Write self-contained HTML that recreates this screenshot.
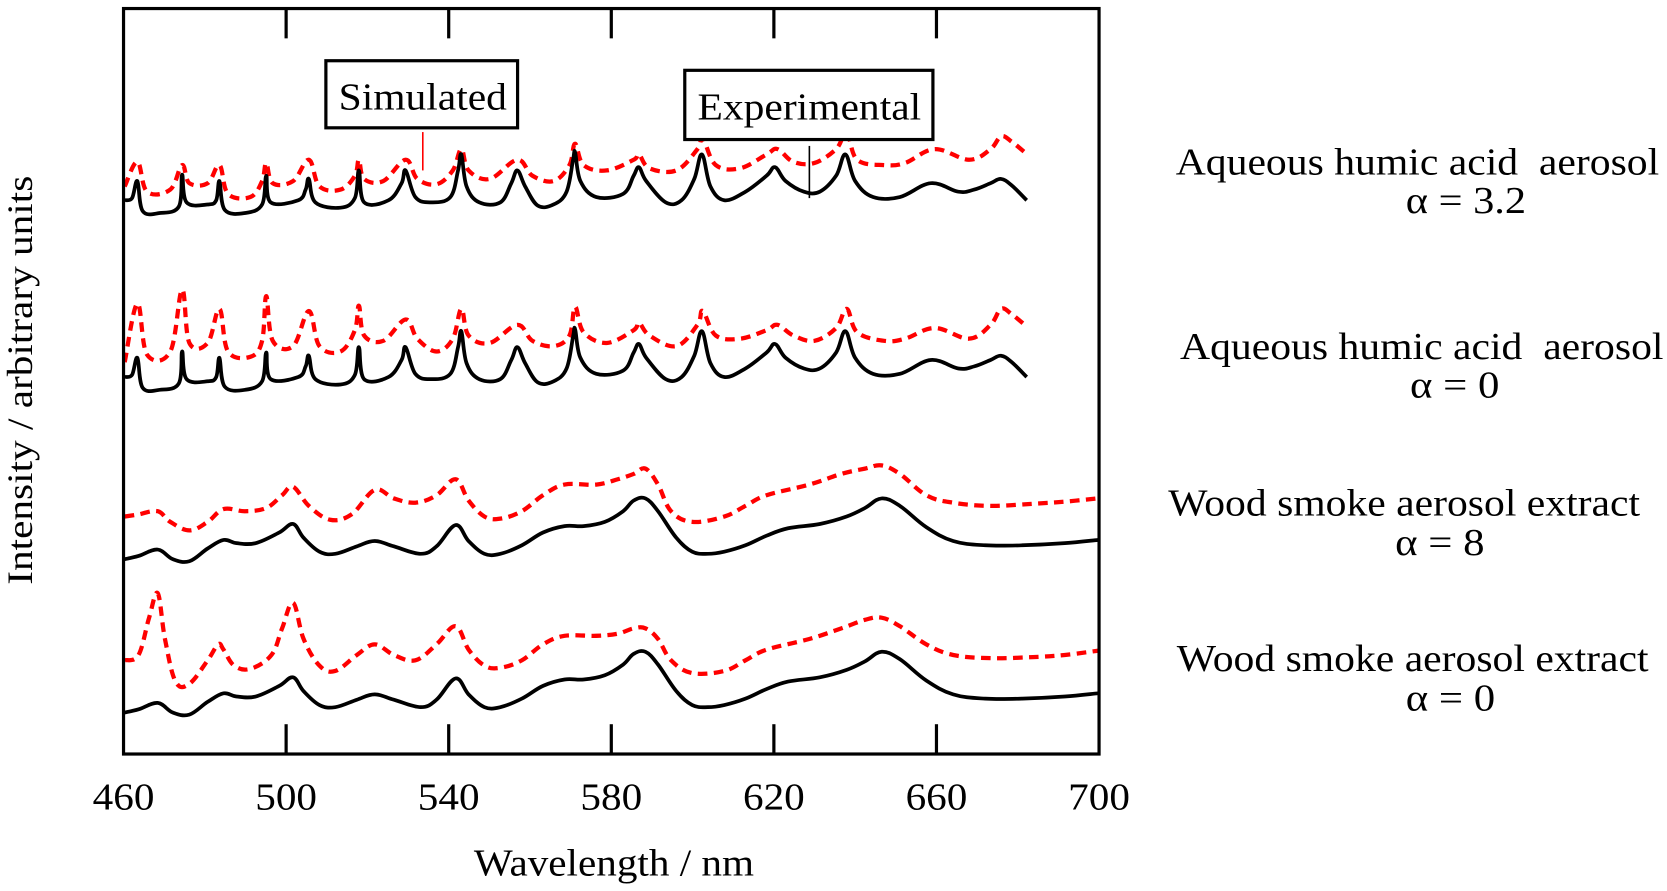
<!DOCTYPE html>
<html><head><meta charset="utf-8"><style>
html,body{margin:0;padding:0;background:#fff;}
svg{display:block;}
text{font-family:"Liberation Serif",serif;fill:#000;white-space:pre;}
</style></head><body>
<svg id="chart" width="1667" height="891" viewBox="0 0 1565.3 836.6" xmlns="http://www.w3.org/2000/svg">
<rect x="0" y="0" width="1565.3" height="836.6" fill="#fff"/>
<g id="marks"></g>
<rect x="116" y="8" width="916" height="700" fill="none" stroke="#000" stroke-width="3"/>
<g id="ticks"></g>
<text x="445" y="822" font-size="36" textLength="263" lengthAdjust="spacingAndGlyphs">Wavelength / nm</text>
<text transform="translate(30,549) rotate(-90)" font-size="34" textLength="384" lengthAdjust="spacingAndGlyphs">Intensity / arbitrary units</text>
<g>
<rect x="306" y="57" width="180" height="63" fill="#fff" stroke="#000" stroke-width="3"/>
<text x="318" y="103" font-size="36" textLength="158" lengthAdjust="spacingAndGlyphs">Simulated</text>
<line x1="397" y1="124" x2="397" y2="160" stroke="#f00" stroke-width="1.5"/>
</g>
<g>
<rect x="643" y="66" width="233" height="65" fill="#fff" stroke="#000" stroke-width="3"/>
<text x="655" y="112" font-size="36" textLength="210" lengthAdjust="spacingAndGlyphs">Experimental</text>
<line x1="760" y1="137" x2="760" y2="186" stroke="#000" stroke-width="1.5"/>
</g>
<g font-size="36">
<text x="1104" y="164" textLength="454" lengthAdjust="spacingAndGlyphs">Aqueous humic acid &#160;aerosol</text>
<text x="1320" y="200" textLength="113" lengthAdjust="spacingAndGlyphs">α = 3.2</text>
<text x="1108" y="337" textLength="454" lengthAdjust="spacingAndGlyphs">Aqueous humic acid &#160;aerosol</text>
<text x="1324" y="373" textLength="84" lengthAdjust="spacingAndGlyphs">α = 0</text>
<text x="1097" y="484" textLength="443" lengthAdjust="spacingAndGlyphs">Wood smoke aerosol extract</text>
<text x="1310" y="521" textLength="84" lengthAdjust="spacingAndGlyphs">α = 8</text>
<text x="1105" y="630" textLength="443" lengthAdjust="spacingAndGlyphs">Wood smoke aerosol extract</text>
<text x="1320" y="667" textLength="84" lengthAdjust="spacingAndGlyphs">α = 0</text>
</g>
</svg>
<script>
const tickValues = [460, 500, 540, 580, 620, 660, 700];
const tickLabels = ["460", "500", "540", "580", "620", "660", "700"];

const wlExpHumic = [460.3,462.1,463.4,464.7,468.9,473.6,474.4,475.5,480.7,482.8,483.6,484.9,489.9,494.1,495.1,496.2,503.0,504.8,505.6,507.2,513.4,516.9,517.9,519.2,525.2,528.4,529.4,531.8,535.7,540.4,542.3,543.1,544.4,547.5,552.7,555.4,556.9,558.8,561.9,565.8,569.0,570.6,571.1,572.4,576.3,582.9,585.5,586.8,588.6,593.4,597.3,600.4,602.3,604.4,607.8,613.0,618.2,620.3,622.9,627.4,631.3,635.3,637.6,640.0,644.4,651.0,658.6,665.4,669.3,673.3,675.9,678.5,682.2];
const intExpHumic = [812,814,830,802,800,806,836,810,808,812,830,803,800,808,835,810,812,822,832,810,805,814,840,810,812,828,840,815,810,815,840,855,825,810,810,828,840,825,807,808,820,850,857,830,815,818,835,843,830,810,812,832,855,825,812,820,835,843,830,820,820,835,855,830,815,815,828,820,822,828,832,826,812];

const wlSimHumic = [460.3,463.4,465.8,471.5,474.4,476.2,480.7,483.6,485.7,491.2,494.1,495.1,496.7,501.7,505.6,508.2,513.4,516.9,517.9,519.2,523.9,529.4,532.3,537.0,541.0,543.1,544.9,550.1,556.9,560.6,565.8,569.7,571.1,573.2,578.9,585.5,586.8,589.4,596.0,601.2,602.5,605.7,611.7,618.2,620.9,624.8,630.0,635.3,637.9,640.5,647.1,652.3,659.6,668.0,673.3,675.9,678.5,681.7];
const intSimHumicA32 = [825,848,820,822,845,828,828,845,818,815,830,847,828,830,850,825,822,835,850,832,830,850,832,827,840,860,840,832,850,835,830,845,865,845,840,850,855,842,840,860,870,845,842,855,860,848,847,860,875,850,845,847,860,850,860,872,867,857];
const intSimHumicA0 = [660,715,667,670,728,678,678,710,670,665,680,722,680,675,708,675,670,690,713,685,680,700,682,670,682,710,685,678,695,680,675,685,712,688,678,690,697,685,675,695,708,685,682,690,695,685,680,692,710,688,680,682,692,682,695,710,705,695];

const wlExpWood = [460.3,463.7,468.4,472.1,476.2,480.7,484.6,487.8,492.5,498.3,501.7,504.3,508.2,512.1,517.4,521.8,526.5,533.1,537.0,541.7,544.9,548.8,552.7,558.0,563.2,568.5,573.2,578.4,582.9,585.5,588.4,591.5,596.0,599.9,603.8,607.8,613.0,618.2,623.5,631.3,637.9,642.4,646.5,651.0,657.5,664.1,672.0,681.1,691.6,699.7];
const intExpWood = [475,478,484,475,473,485,493,490,490,500,508,495,482,480,487,492,487,480,487,507,492,480,480,488,500,506,506,510,520,530,532,520,495,482,480,482,488,497,504,508,515,523,532,525,505,492,488,488,490,493];

const wlSimWoodA8 = [460.3,463.7,468.4,471.5,476.2,480.7,484.6,489.9,495.1,499.0,501.7,505.6,510.8,516.1,521.8,526.5,531.8,537.0,541.7,544.9,548.8,552.7,558.0,563.2,568.5,576.3,581.6,585.5,588.4,591.5,594.7,599.9,607.8,613.0,618.2,628.7,636.6,642.4,646.5,651.0,657.5,664.1,673.3,683.7,691.6,699.7];
const intSimWoodA8 = [515,517,520,510,502,510,522,520,523,535,543,525,512,517,540,532,528,535,550,530,515,513,520,535,545,545,550,555,560,545,520,510,515,525,535,545,555,560,563,555,535,528,525,527,529,532];

const wlSimWoodA0 = [460.3,463.7,466.3,468.4,470.2,472.8,476.2,480.7,483.3,484.6,487.2,491.2,496.4,499.0,501.7,504.3,508.2,512.1,517.4,521.8,526.5,531.8,537.0,541.7,544.9,548.8,552.7,558.0,563.2,568.5,576.3,581.6,585.5,588.4,591.5,594.7,599.9,607.8,613.0,618.2,628.7,636.6,642.4,646.5,651.0,657.5,664.1,673.3,683.7,691.6,699.7];
const intSimWoodA0 = [380,385,420,443,400,360,358,380,395,390,375,372,385,410,434,400,375,370,385,395,385,380,395,412,390,375,373,380,395,403,403,405,410,410,400,380,368,370,380,390,400,410,418,420,412,395,385,382,383,385,389];

const stackOffsets = [0, -166, 0, -144];

const NS = "http://www.w3.org/2000/svg";
function xScale(w){ return 116 + (w - 460) * (916 / 240); }
function yScale(v, off){ return 1000 - v - off; }

function pathFrom(wl, vals, off){
  const p = wl.map((w,i)=>[xScale(w), yScale(vals[i], off)]);
  let d = "M" + p[0][0].toFixed(1) + "," + p[0][1].toFixed(1);
  for (let i=0;i<p.length-1;i++){
    const p0 = p[Math.max(0,i-1)], p1 = p[i], p2 = p[i+1], p3 = p[Math.min(p.length-1,i+2)];
    const t = 0.18;
    const c1 = [p1[0]+(p2[0]-p0[0])*t, p1[1]+(p2[1]-p0[1])*t];
    const c2 = [p2[0]-(p3[0]-p1[0])*t, p2[1]-(p3[1]-p1[1])*t];
    d += "C"+c1[0].toFixed(1)+","+c1[1].toFixed(1)+" "+c2[0].toFixed(1)+","+c2[1].toFixed(1)+" "+p2[0].toFixed(1)+","+p2[1].toFixed(1);
  }
  return d;
}

const marks = document.getElementById("marks");
function addLine(name, wl, vals, off, sim){
  const el = document.createElementNS(NS, "path");
  el.setAttribute("d", pathFrom(wl, vals, off));
  el.setAttribute("fill", "none");
  el.setAttribute("stroke", sim ? "#f00" : "#000");
  el.setAttribute("stroke-width", sim ? "4" : "3.5");
  el.setAttribute("stroke-linejoin", "round");
  if (sim) el.setAttribute("stroke-dasharray", "9 6");
  
  
  marks.appendChild(el);
}
addLine("simulated-humic-alpha-3-2", wlSimHumic, intSimHumicA32, stackOffsets[0], true);
addLine("experimental-humic-alpha-3-2", wlExpHumic, intExpHumic, stackOffsets[0], false);
addLine("simulated-humic-alpha-0", wlSimHumic, intSimHumicA0, 0, true);
addLine("experimental-humic-alpha-0", wlExpHumic, intExpHumic, stackOffsets[1], false);
addLine("simulated-wood-alpha-8", wlSimWoodA8, intSimWoodA8, stackOffsets[2], true);
addLine("experimental-wood-alpha-8", wlExpWood, intExpWood, stackOffsets[2], false);
addLine("simulated-wood-alpha-0", wlSimWoodA0, intSimWoodA0, 0, true);
addLine("experimental-wood-alpha-0", wlExpWood, intExpWood, stackOffsets[3], false);

const ticks = document.getElementById("ticks");
tickValues.forEach((v,i)=>{
  const x = xScale(v);
  if (i>0 && i<tickValues.length-1){
    [[8,36],[680,708]].forEach((yy,j)=>{
      const ln = document.createElementNS(NS,"line");
      ln.setAttribute("x1",x); ln.setAttribute("x2",x);
      ln.setAttribute("y1",yy[0]); ln.setAttribute("y2",yy[1]);
      ln.setAttribute("stroke","#000"); ln.setAttribute("stroke-width","3");
      
      
      ticks.appendChild(ln);
    });
  }
  const t = document.createElementNS(NS,"text");
  t.setAttribute("x", x); t.setAttribute("y", 760);
  t.setAttribute("text-anchor","middle");
  t.setAttribute("font-size","36");
  t.setAttribute("textLength","58");
  t.setAttribute("lengthAdjust","spacingAndGlyphs");
  t.textContent = tickLabels[i];
  
  
  ticks.appendChild(t);
});
</script>
</body></html>
